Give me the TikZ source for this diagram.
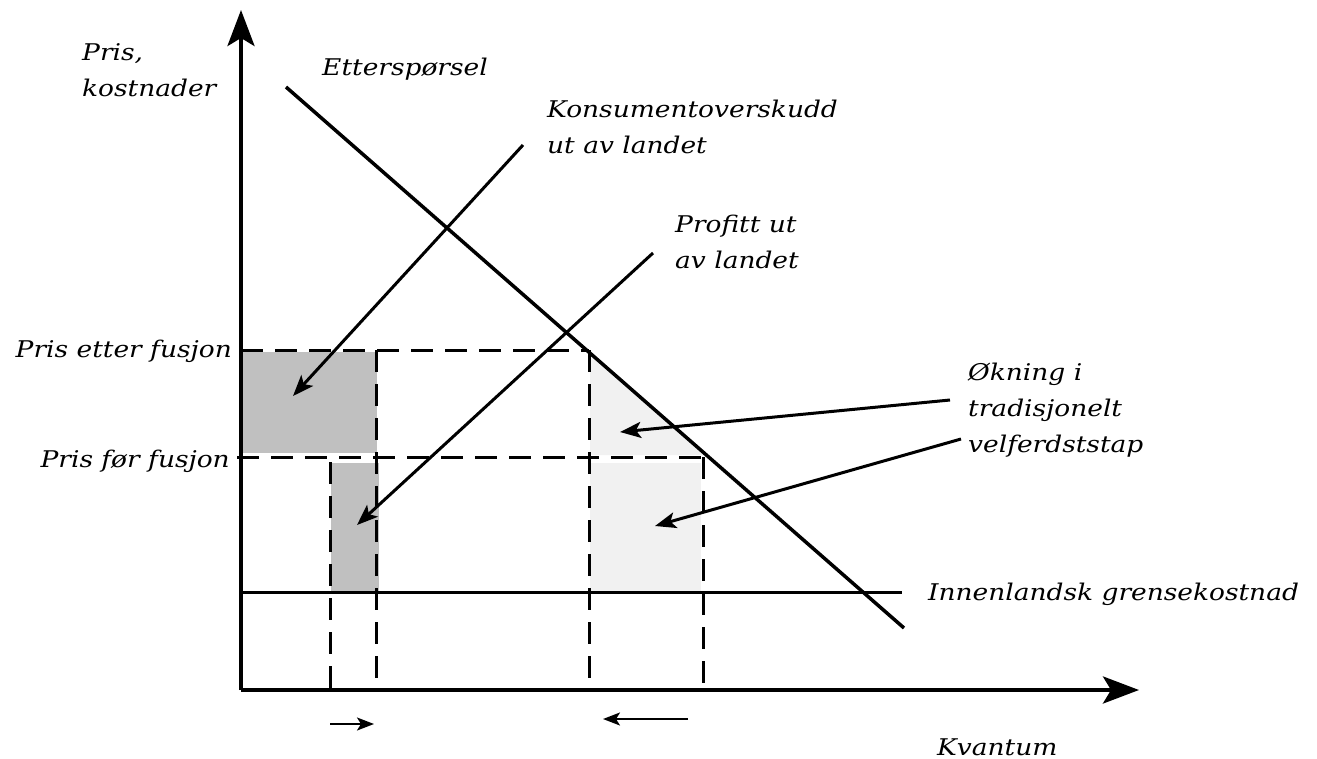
\documentclass[tikz,border=0pt]{standalone}
\usepackage{fontspec}
\setmainfont{DejaVu Serif}
\newfontfamily\lblfont[FakeStretch=1.15]{DejaVu Serif}
\usetikzlibrary{arrows.meta}
\definecolor{darkfill}{HTML}{C0C0C0}
\definecolor{lightfill}{HTML}{F1F1F1}
\begin{document}
\begin{tikzpicture}[x=1pt,y=-1pt,
  lbl/.style={font=\lblfont\fontsize{23}{36}\selectfont\itshape, inner sep=0pt, align=left},
  axisline/.style={line width=4pt, -{Stealth[length=36pt,width=27pt,inset=8pt]}},
  dashline/.style={line width=3pt, dash pattern=on 22pt off 12pt},
  pointer/.style={line width=3pt, -{Stealth[length=21pt,width=16pt,inset=5pt]}},
  shiftarrow/.style={line width=2pt, -{Stealth[length=17pt,width=13pt,inset=4pt]}},
]
\useasboundingbox (0,0) rectangle (1317,758);

% key points
\coordinate (O) at (241,690);
\coordinate (Ytop) at (241,10);
\coordinate (Xend) at (1139,690);
\coordinate (Dtop) at (286,87);
\coordinate (Dbot) at (904,628);
\coordinate (Pa) at (241,350);
\coordinate (Ea) at (589,350);
\coordinate (Pb) at (237,457);
\coordinate (Eb) at (703,457);
\coordinate (Ma) at (241,592);
\coordinate (Mb) at (902,592);
\coordinate (Q1t) at (330,462);
\coordinate (Q1b) at (330,696);
\coordinate (Q2t) at (376,350);
\coordinate (Q2b) at (376,688);
\coordinate (Q3b) at (589,690);
\coordinate (Q4b) at (703,690);

% shaded areas
\fill[darkfill] (243,352) rectangle (377,453);
\fill[darkfill] (331,463) rectangle (379,591);
\fill[lightfill] (586,350) -- (706,455) -- (590,455) -- (590,350) -- cycle;
\fill[lightfill] (590,463) rectangle (701,591);

% axes
\draw[axisline] (O) -- (Ytop);
\draw[axisline] (O) -- (Xend);

% demand and marginal cost
\draw[line width=3.5pt] (Dtop) -- (Dbot);
\draw[line width=3pt] (Ma) -- (Mb);

% dashed guide lines
\draw[dashline] (Pa) -- (Ea);
\draw[dashline] (Pb) -- (Eb);
\draw[dashline] (Q1t) -- (Q1b);
\draw[dashline] (Q2t) -- (Q2b);
\draw[dashline] (Ea) -- (Q3b);
\draw[dashline] (Eb) -- (Q4b);

% pointer arrows
\coordinate (k1) at (523,145);
\coordinate (k2) at (293,396);
\coordinate (p1) at (653,253);
\coordinate (p2) at (357,525);
\coordinate (v1) at (950,400);
\coordinate (v2) at (620,432);
\coordinate (w1) at (961,439);
\coordinate (w2) at (655,526);
\draw[pointer] (k1) -- (k2);
\draw[pointer] (p1) -- (p2);
\draw[pointer] (v1) -- (v2);
\draw[pointer] (w1) -- (w2);

% small shift arrows
\coordinate (s1) at (330,724);
\coordinate (s2) at (374,724);
\coordinate (t1) at (688,719);
\coordinate (t2) at (603,719);
\draw[shiftarrow] (s1) -- (s2);
\draw[shiftarrow] (t1) -- (t2);

% labels
\node[lbl, anchor=west] (pk) at (82,70) {Pris,\\kostnader};
\node[lbl, anchor=base west] (ett) at (322,75) {Etterspørsel};
\node[lbl, anchor=west] (kons) at (547,127) {Konsumentoverskudd\\ut av landet};
\node[lbl, anchor=west] (prof) at (675,242) {Profitt ut\\av landet};
\node[lbl, anchor=base east] (pe) at (232,357) {Pris etter fusjon};
\node[lbl, anchor=base east] (pf) at (230,467) {Pris før fusjon};
\node[lbl, anchor=west] (okn) at (968,410) {Økning i\\tradisjonelt\\velferdststap};
\node[lbl, anchor=base west] (mc) at (928,600) {Innenlandsk grensekostnad};
\node[lbl, anchor=base west] (kv) at (937,755) {Kvantum};
\end{tikzpicture}
\end{document}
